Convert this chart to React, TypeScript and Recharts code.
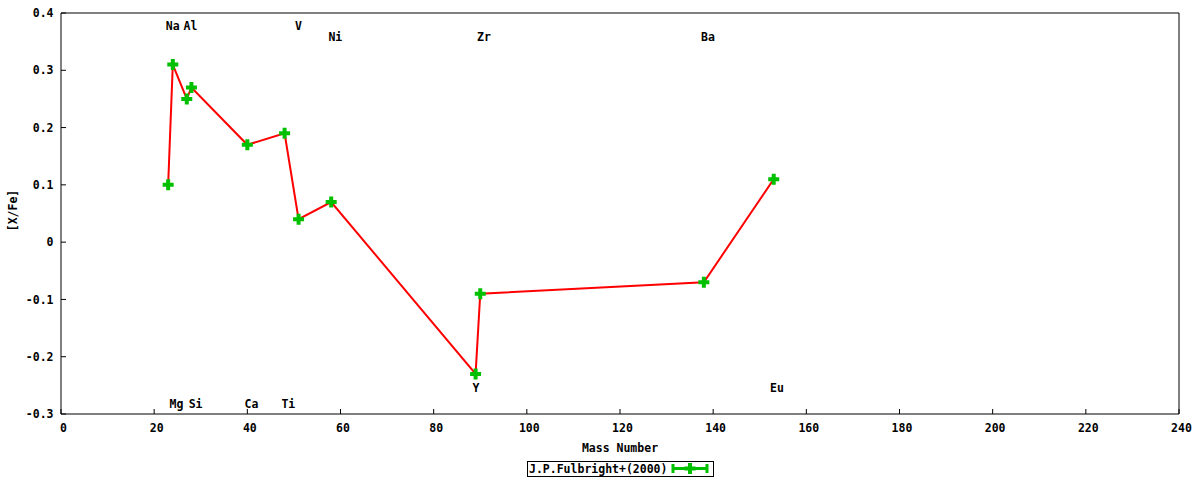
import React from 'react';
import { ScatterChart, Scatter, XAxis, YAxis, Legend } from 'recharts';

// ---- data ----
const elementNames = ['Na', 'Mg', 'Al', 'Si', 'Ca', 'Ti', 'V', 'Ni', 'Y', 'Zr', 'Ba', 'Eu'];
const massNumbers = [23, 24, 27, 28, 40, 48, 51, 58, 89, 90, 138, 153];
const xFeValues = [0.1, 0.31, 0.25, 0.27, 0.17, 0.19, 0.04, 0.07, -0.23, -0.09, -0.07, 0.11];

// element label positions (data units)
const labelX = [24.0, 24.8, 27.8, 28.9, 40.9, 48.8, 51.0, 58.9, 89.1, 90.8, 138.9, 153.7];
const labelY = [0.377, -0.282, 0.377, -0.282, -0.282, -0.282, 0.377, 0.358, -0.254, 0.358, 0.358, -0.254];

const xTicks = [0, 20, 40, 60, 80, 100, 120, 140, 160, 180, 200, 220, 240];
const yTicks = [-0.3, -0.2, -0.1, 0, 0.1, 0.2, 0.3, 0.4];

const seriesName = 'J.P.Fulbright+(2000)';
const xTitle = 'Mass Number';
const yTitle = '[X/Fe]';

// ---- styles ----
const FONT = "'DejaVu Sans Mono', 'Liberation Mono', monospace";
const FS = 11.5;
const GREEN = '#00c000';
const RED = '#ff0000';

const points = massNumbers.map((m, i) => ({ x: m, y: xFeValues[i], name: elementNames[i] }));
const labels = elementNames.map((n, i) => ({ x: labelX[i], y: labelY[i], name: n }));

const tickStyle = { fontFamily: FONT, fontSize: FS, fontWeight: 'bold', fill: '#000' };
const xTickStyle = { ...tickStyle, dx: 2.5 };
const fmtY = (v: number) => {
  const r = Math.round(v * 10) / 10;
  return r === 0 ? '0' : r.toFixed(1);
};

const PlusDot = (props: any) => {
  const { cx, cy } = props;
  if (cx == null || cy == null) return null;
  return (
    <path
      d={`M${cx - 5.5},${cy - 2}h11v4h-11z M${cx - 2},${cy - 5.5}h4v11h-4z`}
      fill={GREEN}
    />
  );
};

const NameLabel = (props: any) => {
  const { cx, cy, payload } = props;
  if (cx == null || cy == null) return null;
  return (
    <text x={cx} y={cy} dy={4} textAnchor="middle" style={tickStyle as any}>
      {payload.name}
    </text>
  );
};

const YLabel = (props: any) => {
  const vb = props.viewBox || { x: 0, y: 13, width: 61, height: 400 };
  const x = vb.x + 13;
  const y = vb.y + vb.height / 2 - 3;
  return (
    <text
      x={x}
      y={y}
      transform={`rotate(-90, ${x}, ${y})`}
      textAnchor="middle"
      dominantBaseline="central"
      style={tickStyle as any}
    >
      {yTitle}
    </text>
  );
};

const XLabel = (props: any) => {
  const vb = props.viewBox || { x: 61, y: 413, width: 1118, height: 30 };
  return (
    <text x={vb.x + vb.width / 2} y={vb.y + 37.5} textAnchor="middle" style={tickStyle as any}>
      {xTitle}
    </text>
  );
};

const LegendBox = () => (
  <svg width={187} height={16} style={{ display: 'block' }}>
    <rect x={0.5} y={0.5} width={186} height={15} fill="#fff" stroke="#000" strokeWidth={1} />
    <text x={2} y={11.5} style={tickStyle as any}>
      {seriesName}
    </text>
    <line x1={145} y1={7.5} x2={181} y2={7.5} stroke={GREEN} strokeWidth={3} />
    <line x1={146} y1={3} x2={146} y2={12} stroke={GREEN} strokeWidth={3} />
    <line x1={180} y1={3} x2={180} y2={12} stroke={GREEN} strokeWidth={3} />
    <path d="M157.5,5.5h11v4h-11z M161,2h4v11h-4z" fill={GREEN} />
  </svg>
);

export default function App() {
  return (
    <div style={{ position: 'absolute', left: 0, top: 0, width: 1200, height: 480, background: '#fff' }}>
      <ScatterChart
        width={1200}
        height={480}
        margin={{ top: 3, right: 1, bottom: 36, left: 0 }}
      >
        <XAxis
          xAxisId={0}
          type="number"
          dataKey="x"
          domain={[0, 240]}
          ticks={xTicks}
          interval={0}
          allowDataOverflow
          height={30}
          tickSize={-5}
          tickMargin={15}
          tick={xTickStyle}
          axisLine={{ stroke: '#000', strokeWidth: 1 }}
          tickLine={{ stroke: '#000', strokeWidth: 1 }}
          label={<XLabel />}
        />
        <XAxis
          xAxisId="top"
          orientation="top"
          type="number"
          dataKey="x"
          domain={[0, 240]}
          ticks={xTicks}
          interval={0}
          allowDataOverflow
          height={10}
          tickSize={-5}
          tick={false}
          axisLine={{ stroke: '#000', strokeWidth: 1 }}
          tickLine={{ stroke: '#000', strokeWidth: 1 }}
        />
        <YAxis
          yAxisId={0}
          type="number"
          dataKey="y"
          domain={[-0.3, 0.4]}
          ticks={yTicks}
          interval={0}
          allowDataOverflow
          width={61}
          tickSize={-5}
          tickMargin={12.5}
          tick={tickStyle}
          tickFormatter={fmtY}
          axisLine={{ stroke: '#000', strokeWidth: 1 }}
          tickLine={{ stroke: '#000', strokeWidth: 1 }}
          label={<YLabel />}
        />
        <YAxis
          yAxisId="right"
          orientation="right"
          type="number"
          dataKey="y"
          domain={[-0.3, 0.4]}
          ticks={yTicks}
          interval={0}
          allowDataOverflow
          width={20}
          tickSize={-5}
          tick={false}
          axisLine={{ stroke: '#000', strokeWidth: 1 }}
          tickLine={{ stroke: '#000', strokeWidth: 1 }}
        />
        <Legend
          layout="horizontal"
          verticalAlign="middle"
          align="center"
          content={() => <LegendBox />}
          wrapperStyle={{ position: 'absolute', left: 527, top: 461, width: 187, height: 16 }}
        />
        <Scatter
          name="labels"
          data={labels}
          xAxisId={0}
          yAxisId={0}
          shape={<NameLabel />}
          isAnimationActive={false}
          legendType="none"
        />
        <Scatter
          name={seriesName}
          data={points}
          xAxisId={0}
          yAxisId={0}
          line={{ stroke: RED, strokeWidth: 2 }}
          lineType="joint"
          shape={<PlusDot />}
          isAnimationActive={false}
        />
      </ScatterChart>
    </div>
  );
}
